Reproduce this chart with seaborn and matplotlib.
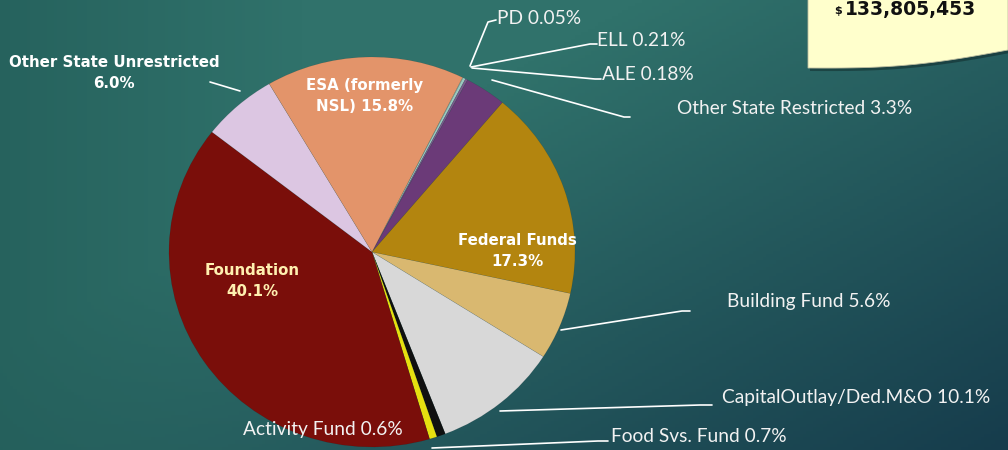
import numpy as np
import matplotlib
matplotlib.use("Agg")
import matplotlib.pyplot as plt
import seaborn as sns
from matplotlib.patches import Polygon

sns.set_theme(style="white")
plt.rcParams['font.family'] = ['Lato', 'DejaVu Sans']

# ---- data (clockwise order starting at PD) ----
categories = ["PD", "ELL", "ALE", "Other State Restricted", "Federal Funds",
              "Building Fund", "CapitalOutlay/Ded.M&O", "Food Svs. Fund",
              "Activity Fund", "Foundation", "Other State Unrestricted",
              "ESA (formerly NSL)"]
values = [0.05, 0.21, 0.18, 3.3, 17.3, 5.6, 10.1, 0.7, 0.6, 40.1, 6.0, 15.8]
colors = ["#BCD4C8", "#9CC8C0", "#7C5A8C", "#6B3A78", "#B3850F",
          "#D9B870", "#D8D8D8", "#101010", "#E6E010", "#7A0E0A",
          "#DCC6E2", "#E3946A"]
total_label = "133,805,453"

W, H = 1008, 450
fig = plt.figure(figsize=(W / 100, H / 100), dpi=100)

# background gradient
bg = fig.add_axes([0, 0, 1, 1], zorder=0)
xs = np.linspace(0, 1, 300)
ys = np.linspace(0, 1, 140)
X, Y = np.meshgrid(xs, ys)
c_light = np.array([0x30, 0x72, 0x6b]) / 255
c_dark = np.array([0x16, 0x3c, 0x4c]) / 255
c_left = np.array([0x22, 0x5c, 0x58]) / 255
d = np.clip(0.55 * X + 0.45 * Y, 0, 1)
t = np.clip((d - 0.35) / 0.65, 0, 1)[..., None]
img = c_light * (1 - t) + c_dark * t
lt = np.clip((0.3 - X) / 0.3, 0, 1)[..., None] * 0.7
img = img * (1 - lt) + c_left * lt
bg.imshow(img, extent=[0, W, H, 0], aspect="auto")
bg.set_xlim(0, W)
bg.set_ylim(H, 0)
bg.axis("off")

# pie axes: ellipse with horizontal radius 203 px, vertical 195 px
cx, cy, rx, ry = 372, 252, 203, 195
pax = fig.add_axes([0, 0, 1, 1], zorder=1)
pax.patch.set_alpha(0)
pax.pie(values, colors=colors, startangle=63.5, counterclock=False,
        radius=1, center=(0, 0),
        wedgeprops=dict(linewidth=0.3, edgecolor=(0, 0, 0, 0.15)))
pax.set_aspect("auto")
pax.set_xlim(-cx / rx, (W - cx) / rx)
pax.set_ylim(-(H - cy) / ry, cy / ry)
pax.axis("off")

# overlay in pixel coordinates
ov = fig.add_axes([0, 0, 1, 1], zorder=2)
ov.patch.set_alpha(0)
ov.set_xlim(0, W)
ov.set_ylim(H, 0)
ov.axis("off")

thin = dict(color="#F2F2F2", fontsize=13.8, va="center", ha="left")
lines = [
    ([470, 488, 496], [66, 22, 20]),
    ([471, 590, 597], [67, 44, 44]),
    ([472, 595, 601], [68, 79, 79]),
    ([492, 624, 630], [80, 117, 117]),
    ([561, 682, 690], [330, 311, 311]),
    ([500, 700, 712], [411, 405, 405]),
    ([432, 598, 608], [448, 441, 441]),
    ([210, 240], [82, 91]),
]
for lx, ly in lines:
    ov.plot(lx, ly, color="white", lw=1.2, solid_capstyle="round")

ov.text(497, 19, "PD 0.05%", **thin)
ov.text(597, 41, "ELL 0.21%", **thin)
ov.text(602, 74, "ALE 0.18%", **thin)
ov.text(677, 109, "Other State Restricted 3.3%", **thin)
ov.text(727, 301, "Building Fund 5.6%", **thin)
ov.text(722, 398, "CapitalOutlay/Ded.M&O 10.1%", **thin)
ov.text(611, 436, "Food Svs. Fund 0.7%", **thin)
ov.text(243, 429, "Activity Fund 0.6%", **thin)

bold = dict(fontsize=10.8, fontweight="bold", ha="center", va="center",
            family=["DejaVu Sans"], linespacing=1.45)
ov.text(114, 73, "Other State Unrestricted\n6.0%", color="white", **bold)
ov.text(365, 96, "ESA (formerly\nNSL) 15.8%", color="white", **bold)
ov.text(517, 251, "Federal Funds\n17.3%", color="white", **bold)
ov.text(252, 281, "Foundation\n40.1%", color="#FFF0B0", **bold)

# note box with wavy bottom
bx = np.linspace(808, 1008, 60)
u = (bx - 808) / 200
by = 68 + 6 * np.sin(np.pi * u) - 18 * u
verts = [(808, -5)] + list(zip(bx, by)) + [(1008, -5)]
shadow = Polygon([(x + 2, y + 3) for x, y in verts], closed=True,
                 facecolor=(0, 0, 0, 0.3), edgecolor="none")
ov.add_patch(shadow)
ov.add_patch(Polygon(verts, closed=True, facecolor="#FFFFCC",
                     edgecolor="#BDBDA0", linewidth=0.6))
ov.text(838, 11, "$", fontsize=8, fontweight="bold", color="#111111",
        ha="center", va="center", family=["DejaVu Sans"])
ov.text(911, 9, total_label, fontsize=13.5, fontweight="bold",
        color="#111111", ha="center", va="center", family=["DejaVu Sans"])

fig.savefig("out.png", dpi=100)
